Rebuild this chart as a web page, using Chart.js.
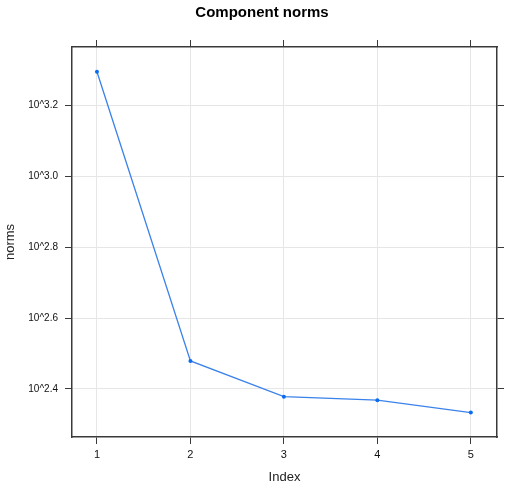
<!DOCTYPE html>
<html lang="en">
<head>
    <meta charset="UTF-8">
    <title>Component norms</title>
    <script src="https://cdn.jsdelivr.net/npm/chart.js@4.4.1/dist/chart.umd.min.js"></script>
    <style>
        html, body { margin: 0; padding: 0; background: #fff; }
        .wrap { width: 510px; height: 493px; }
    </style>
</head>
<body>
    <div class="wrap"><canvas id="chart" width="510" height="493"></canvas></div>

    <script>
        // data (y values are log10 of the norm)
        const indexValues = [1, 2, 3, 4, 5];
        const logNorms = [3.296, 2.479, 2.378, 2.368, 2.333];
        const yTicks = [2.4, 2.6, 2.8, 3.0, 3.2];
        const xTicks = [1, 2, 3, 4, 5];

        const xMin = 0.733, xMax = 5.28;
        const yMin = 2.264, yMax = 3.366;

        const font = "'Liberation Sans', Arial, sans-serif";
        const frame = '#3a3a3a';
        const gridCol = '#e6e6e6';

        const points = indexValues.map((x, i) => ({ x: x, y: logNorms[i] }));

        function fixTicks(list) {
            return function (scale) {
                scale.ticks = list.map(v => ({ value: v }));
            };
        }

        new Chart(document.getElementById('chart'), {
            type: 'line',
            data: {
                datasets: [{
                    data: points,
                    borderColor: '#3b82ea',
                    backgroundColor: '#0a6cf0',
                    borderWidth: 1.3,
                    pointRadius: 2,
                    pointBorderWidth: 0,
                    tension: 0
                }]
            },
            options: {
                responsive: false,
                animation: false,
                layout: { padding: { left: 14 } },
                plugins: {
                    legend: { display: false },
                    tooltip: { enabled: false },
                    title: {
                        display: true,
                        text: 'Component norms',
                        color: '#000',
                        font: { family: font, size: 15, weight: 'bold' },
                        padding: { top: 4, bottom: 0 }
                    }
                },
                scales: {
                    x: {
                        type: 'linear',
                        position: 'bottom',
                        min: xMin, max: xMax,
                        afterBuildTicks: fixTicks(xTicks),
                        afterFit: s => { s.height = 56; },
                        grid: { color: gridCol, tickColor: frame, tickLength: 7 },
                        border: { color: frame, width: 1.5 },
                        ticks: {
                            color: '#111', padding: 4, maxRotation: 0,
                            font: { family: font, size: 11 },
                            callback: v => String(v)
                        },
                        title: {
                            display: true, text: 'Index', color: '#222',
                            font: { family: font, size: 13 },
                            padding: { top: 0, bottom: 8 }
                        }
                    },
                    xTop: {
                        type: 'linear',
                        position: 'top',
                        min: xMin, max: xMax,
                        afterBuildTicks: fixTicks(xTicks),
                        afterFit: s => { s.height = 25; },
                        grid: { drawOnChartArea: false, tickColor: frame, tickLength: 7 },
                        border: { color: frame, width: 1.5 },
                        ticks: { display: false }
                    },
                    y: {
                        type: 'linear',
                        position: 'left',
                        min: yMin, max: yMax,
                        afterBuildTicks: fixTicks(yTicks),
                        afterFit: s => { s.width = 58; },
                        grid: { color: gridCol, tickColor: frame, tickLength: 7 },
                        border: { color: frame, width: 1.5 },
                        ticks: {
                            color: '#111', padding: 7,
                            font: { family: font, size: 10 },
                            callback: v => '10^' + Number(v).toFixed(1)
                        },
                        title: {
                            display: true, text: 'norms', color: '#222',
                            font: { family: font, size: 13 },
                            padding: { top: -11, bottom: 0 }
                        }
                    },
                    yRight: {
                        type: 'linear',
                        position: 'right',
                        min: yMin, max: yMax,
                        afterBuildTicks: fixTicks(yTicks),
                        afterFit: s => { s.width = 13; },
                        grid: { drawOnChartArea: false, tickColor: frame, tickLength: 7 },
                        border: { color: frame, width: 1.5 },
                        ticks: { display: false }
                    }
                }
            }
        });
    </script>
</body>
</html>
